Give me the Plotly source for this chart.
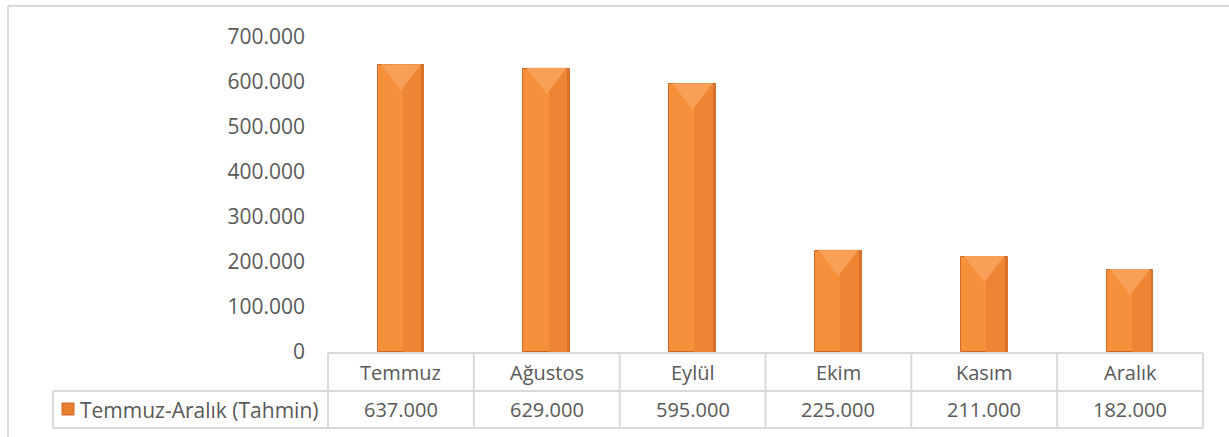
import plotly.graph_objects as go

categories = ["Temmuz", "Ağustos", "Eylül", "Ekim", "Kasım", "Aralık"]
values = [637000, 629000, 595000, 225000, 211000, 182000]
series_name = "Temmuz-Aralık (Tahmin)"
y_tickvals = [0, 100000, 200000, 300000, 400000, 500000, 600000, 700000]
y_ticktext = ["0", "100.000", "200.000", "300.000", "400.000", "500.000", "600.000", "700.000"]

W, H = 1229, 437
PL, PR, PT, PB = 328, 1203, 37, 352  # plot area in pixels

def px_x(X):
    return (X - PL) / (PR - PL)

def px_y(Y):
    return (PB - Y) / (PB - PT)

def fmt(v):
    return f"{v:,}".replace(",", ".")

FONT = "Open Sans, Liberation Sans, sans-serif"
TXT = "#595959"
GRID = "#d9d9d9"
BW = 0.32

fig = go.Figure()
# main bar
fig.add_trace(go.Bar(x=categories, y=values, width=BW, name=series_name,
                     marker=dict(color="#f6903b", line=dict(color="#c96a2a", width=1)),
                     showlegend=False, hoverinfo="x+y"))
# right half shading for bevel look
fig.add_trace(go.Bar(x=categories, y=values, width=BW * 0.40, offset=BW * 0.04,
                     marker=dict(color="#ee8535", line=dict(width=0)),
                     showlegend=False, hoverinfo="skip"))
# right dark edge
fig.add_trace(go.Bar(x=categories, y=values, width=BW * 0.06, offset=BW * 0.44,
                     marker=dict(color="#d8712c", line=dict(width=0)),
                     showlegend=False, hoverinfo="skip"))
# top triangle highlight
fig.add_trace(go.Scatter(x=categories, y=[v - 17000 for v in values], mode="markers",
                         marker=dict(symbol="triangle-down", size=35, color="#f8a058",
                                     line=dict(width=0)),
                         showlegend=False, hoverinfo="skip"))

shapes = []
# chart outer border
shapes.append(dict(type="line", xref="paper", yref="paper", x0=px_x(8), x1=px_x(W + 5),
                   y0=px_y(6), y1=px_y(6), line=dict(color=GRID, width=2)))
shapes.append(dict(type="line", xref="paper", yref="paper", x0=px_x(8), x1=px_x(8),
                   y0=px_y(6), y1=px_y(H + 5), line=dict(color=GRID, width=2)))
# table lines
r0, r1, r2 = 353, 391, 428
shapes.append(dict(type="line", xref="paper", yref="paper", x0=px_x(PL), x1=px_x(PR),
                   y0=px_y(r0), y1=px_y(r0), line=dict(color=GRID, width=2)))
for r in (r1, r2):
    shapes.append(dict(type="line", xref="paper", yref="paper", x0=px_x(53), x1=px_x(PR),
                       y0=px_y(r), y1=px_y(r), line=dict(color=GRID, width=2)))
cw = (PR - PL) / len(categories)
for k in range(len(categories) + 1):
    X = PL + k * cw
    shapes.append(dict(type="line", xref="paper", yref="paper", x0=px_x(X), x1=px_x(X),
                       y0=px_y(r0), y1=px_y(r2), line=dict(color=GRID, width=2)))
shapes.append(dict(type="line", xref="paper", yref="paper", x0=px_x(53), x1=px_x(53),
                   y0=px_y(r1), y1=px_y(r2), line=dict(color=GRID, width=2)))
# legend icon
shapes.append(dict(type="rect", xref="paper", yref="paper", x0=px_x(62), x1=px_x(74),
                   y0=px_y(403), y1=px_y(415), fillcolor="#e9802f",
                   line=dict(color="#c96a2a", width=1)))

annotations = []
for c, v in zip(categories, values):
    annotations.append(dict(x=c, xref="x", yref="paper", y=px_y((r0 + r1) / 2), text=c,
                            showarrow=False, font=dict(size=20, color=TXT, family=FONT),
                            xanchor="center", yanchor="middle"))
    annotations.append(dict(x=c, xref="x", yref="paper", y=px_y((r1 + r2) / 2), text=fmt(v),
                            showarrow=False, font=dict(size=20, color=TXT, family=FONT),
                            xanchor="center", yanchor="middle"))
annotations.append(dict(x=px_x(78), xref="paper", yref="paper", y=px_y((r1 + r2) / 2),
                        text=series_name, showarrow=False, xanchor="left", yanchor="middle",
                        font=dict(size=21, color=TXT, family=FONT)))

fig.update_layout(
    width=W, height=H,
    margin=dict(l=PL, r=W - PR, t=PT, b=H - PB, pad=0),
    paper_bgcolor="white", plot_bgcolor="white",
    barmode="overlay", bargap=0,
    showlegend=False,
    shapes=shapes, annotations=annotations,
    font=dict(family=FONT, color=TXT),
    xaxis=dict(type="category", range=[-0.5, 5.5], showticklabels=False, showgrid=False,
               zeroline=False, showline=False, ticks=""),
    yaxis=dict(range=[0, 700000], tickvals=y_tickvals, ticktext=y_ticktext, showgrid=False,
               zeroline=False, showline=False, ticks="", ticklabelstandoff=22,
               tickfont=dict(size=21, color=TXT, family=FONT)),
)

fig.write_html("out.html", config={"displayModeBar": False},
               post_script="document.body.style.margin='0';document.body.style.overflow='hidden';")
